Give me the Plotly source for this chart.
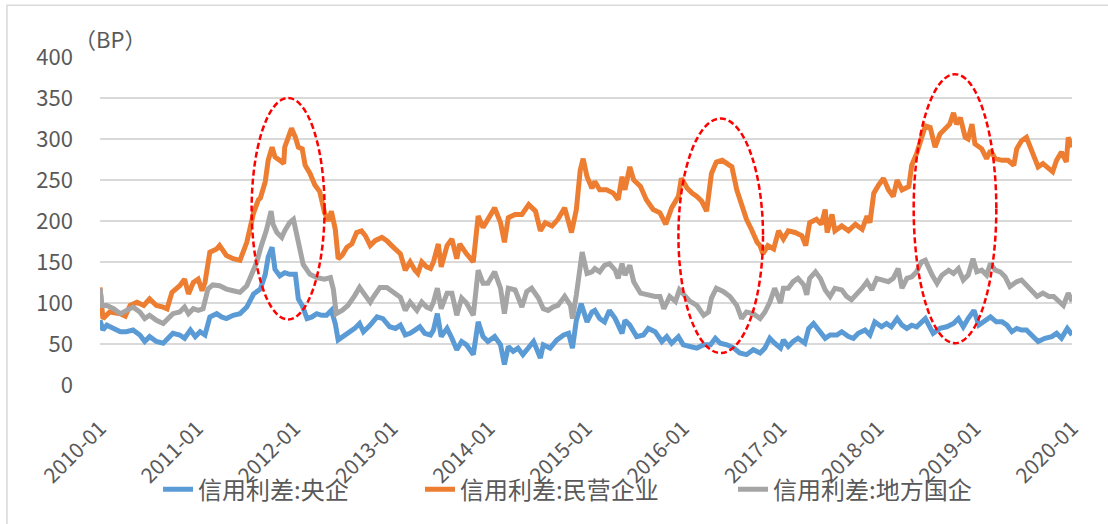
import pandas as pd
import plotly.graph_objects as go

# ---------------- data (decimal year, spread in BP) ----------------
series_names = ["信用利差:央企", "信用利差:民营企业", "信用利差:地方国企"]
series_colors = ["#5B9BD5", "#ED7D31", "#A5A5A5"]

t_soe = [2010.00, 2010.03, 2010.07, 2010.14, 2010.21, 2010.27, 2010.34, 2010.41, 2010.46, 2010.51,
         2010.58, 2010.65, 2010.70, 2010.75, 2010.82, 2010.87, 2010.93, 2010.98, 2011.03, 2011.08,
         2011.13, 2011.20, 2011.25, 2011.30, 2011.37, 2011.44, 2011.51, 2011.58, 2011.65, 2011.70,
         2011.73, 2011.77, 2011.80, 2011.85, 2011.90, 2011.95, 2012.01, 2012.04, 2012.08, 2012.13,
         2012.18, 2012.23, 2012.28, 2012.33, 2012.38, 2012.42, 2012.45, 2012.50, 2012.57, 2012.62,
         2012.67, 2012.71, 2012.78, 2012.85, 2012.91, 2012.98, 2013.04, 2013.09, 2013.14, 2013.19,
         2013.24, 2013.29, 2013.34, 2013.40, 2013.43, 2013.47, 2013.51, 2013.57, 2013.62, 2013.67,
         2013.72, 2013.77, 2013.84, 2013.89, 2013.94, 2013.99, 2014.06, 2014.12, 2014.16, 2014.20,
         2014.25, 2014.30, 2014.35, 2014.41, 2014.46, 2014.53, 2014.56, 2014.63, 2014.70, 2014.77,
         2014.82, 2014.86, 2014.90, 2014.95, 2015.01, 2015.06, 2015.09, 2015.14, 2015.19, 2015.24,
         2015.30, 2015.37, 2015.40, 2015.45, 2015.52, 2015.59, 2015.64, 2015.71, 2015.78, 2015.83,
         2015.88, 2015.95, 2016.00, 2016.07, 2016.14, 2016.21, 2016.28, 2016.33, 2016.38, 2016.45,
         2016.52, 2016.58, 2016.65, 2016.72, 2016.79, 2016.84, 2016.89, 2016.94, 2017.00, 2017.03,
         2017.08, 2017.13, 2017.18, 2017.25, 2017.29, 2017.34, 2017.39, 2017.46, 2017.51, 2017.58,
         2017.63, 2017.70, 2017.75, 2017.80, 2017.87, 2017.92, 2017.97, 2018.04, 2018.09, 2018.14,
         2018.20, 2018.25, 2018.30, 2018.35, 2018.40, 2018.45, 2018.49, 2018.57, 2018.64, 2018.71,
         2018.78, 2018.83, 2018.88, 2018.93, 2018.99, 2019.04, 2019.09, 2019.16, 2019.22, 2019.28,
         2019.33, 2019.38, 2019.43, 2019.48, 2019.53, 2019.60, 2019.65, 2019.72, 2019.79, 2019.84,
         2019.89, 2019.95, 2020.00]
v_soe = [79, 67, 73, 69, 65, 65, 67, 61, 53, 59,
         53, 51, 57, 63, 61, 57, 67, 59, 65, 61,
         83, 87, 83, 81, 85, 87, 95, 111, 117, 135,
         156, 168, 141, 133, 137, 135, 135, 105, 97, 81,
         83, 87, 85, 85, 91, 75, 55, 59, 65, 69,
         75, 65, 73, 83, 81, 71, 69, 73, 61, 63,
         67, 71, 63, 61, 67, 87, 59, 69, 57, 43,
         53, 49, 37, 77, 59, 53, 59, 49, 25, 47,
         41, 45, 37, 47, 53, 33, 49, 45, 55, 61,
         63, 45, 79, 99, 77, 89, 91, 81, 77, 91,
         81, 63, 79, 73, 59, 61, 69, 65, 53, 59,
         51, 59, 49, 47, 45, 49, 49, 57, 51, 49,
         45, 39, 37, 43, 39, 45, 57, 51, 45, 55,
         47, 53, 57, 51, 69, 75, 67, 57, 61, 61,
         65, 59, 57, 63, 67, 61, 77, 71, 75, 71,
         81, 73, 69, 73, 71, 77, 81, 63, 69, 71,
         75, 81, 71, 81, 91, 73, 77, 83, 77, 77,
         73, 65, 69, 67, 67, 59, 53, 57, 59, 63,
         57, 69, 61]

t_private = [2010.00, 2010.03, 2010.10, 2010.21, 2010.26, 2010.31, 2010.38, 2010.45, 2010.51, 2010.58,
             2010.65, 2010.69, 2010.74, 2010.82, 2010.87, 2010.91, 2010.96, 2011.01, 2011.05, 2011.08,
             2011.13, 2011.20, 2011.23, 2011.30, 2011.37, 2011.44, 2011.51, 2011.54, 2011.58, 2011.63,
             2011.65, 2011.70, 2011.73, 2011.77, 2011.80, 2011.85, 2011.89, 2011.90, 2011.94, 2011.97,
             2012.01, 2012.04, 2012.08, 2012.11, 2012.16, 2012.21, 2012.26, 2012.31, 2012.35, 2012.38,
             2012.42, 2012.45, 2012.49, 2012.54, 2012.59, 2012.64, 2012.69, 2012.73, 2012.78, 2012.83,
             2012.90, 2012.95, 2013.00, 2013.05, 2013.09, 2013.14, 2013.19, 2013.24, 2013.27, 2013.31,
             2013.36, 2013.40, 2013.43, 2013.48, 2013.51, 2013.57, 2013.62, 2013.67, 2013.70, 2013.77,
             2013.84, 2013.89, 2013.94, 2013.99, 2014.06, 2014.12, 2014.16, 2014.20, 2014.27, 2014.34,
             2014.41, 2014.48, 2014.53, 2014.58, 2014.65, 2014.71, 2014.78, 2014.85, 2014.90, 2014.94,
             2014.97, 2015.01, 2015.06, 2015.09, 2015.14, 2015.21, 2015.28, 2015.33, 2015.37, 2015.40,
             2015.45, 2015.49, 2015.56, 2015.62, 2015.69, 2015.76, 2015.82, 2015.88, 2015.95, 2015.98,
             2016.04, 2016.09, 2016.14, 2016.19, 2016.24, 2016.29, 2016.34, 2016.40, 2016.45, 2016.50,
             2016.55, 2016.60, 2016.65, 2016.70, 2016.76, 2016.79, 2016.82, 2016.87, 2016.93, 2016.98,
             2017.03, 2017.08, 2017.15, 2017.22, 2017.26, 2017.30, 2017.37, 2017.42, 2017.46, 2017.48,
             2017.53, 2017.56, 2017.63, 2017.70, 2017.77, 2017.84, 2017.89, 2017.92, 2017.96, 2018.01,
             2018.06, 2018.11, 2018.16, 2018.20, 2018.25, 2018.32, 2018.35, 2018.40, 2018.45, 2018.49,
             2018.54, 2018.59, 2018.64, 2018.69, 2018.74, 2018.78, 2018.81, 2018.85, 2018.90, 2018.93,
             2018.97, 2019.00, 2019.07, 2019.12, 2019.16, 2019.21, 2019.28, 2019.34, 2019.40, 2019.43,
             2019.48, 2019.53, 2019.57, 2019.62, 2019.65, 2019.70, 2019.76, 2019.80, 2019.84, 2019.89,
             2019.94, 2019.96, 2020.00]
v_private = [119, 81, 89, 87, 84, 97, 101, 97, 105, 97,
             95, 93, 113, 121, 129, 111, 125, 129, 115, 125,
             162, 166, 170, 158, 154, 152, 174, 190, 210, 226,
             228, 248, 274, 290, 278, 274, 270, 290, 302, 313,
             302, 290, 288, 268, 258, 244, 236, 210, 200, 212,
             190, 154, 158, 168, 172, 186, 188, 182, 170, 176,
             180, 176, 170, 164, 160, 140, 150, 140, 136, 150,
             144, 142, 150, 172, 144, 170, 178, 154, 172, 160,
             150, 206, 192, 202, 216, 198, 174, 204, 208, 208,
             220, 212, 188, 198, 194, 202, 216, 186, 214, 262,
             276, 254, 240, 248, 238, 238, 234, 226, 254, 238,
             266, 250, 242, 226, 214, 210, 196, 216, 230, 252,
             240, 234, 230, 224, 212, 258, 272, 274, 270, 266,
             238, 220, 202, 190, 174, 170, 160, 170, 166, 188,
             178, 188, 186, 182, 170, 198, 202, 196, 214, 186,
             208, 188, 194, 188, 196, 190, 206, 198, 234, 244,
             252, 238, 230, 250, 238, 242, 268, 282, 302, 316,
             314, 290, 306, 312, 318, 332, 318, 326, 302, 300,
             318, 294, 288, 276, 286, 276, 274, 274, 268, 288,
             298, 302, 290, 278, 266, 270, 264, 260, 274, 284,
             272, 302, 290]

t_local = [2010.00, 2010.02, 2010.07, 2010.14, 2010.21, 2010.27, 2010.34, 2010.41, 2010.46, 2010.51,
           2010.58, 2010.65, 2010.70, 2010.75, 2010.82, 2010.87, 2010.91, 2010.96, 2011.01, 2011.06,
           2011.11, 2011.16, 2011.23, 2011.30, 2011.37, 2011.44, 2011.51, 2011.56, 2011.61, 2011.66,
           2011.71, 2011.76, 2011.78, 2011.82, 2011.87, 2011.90, 2011.95, 2011.99, 2012.04, 2012.09,
           2012.16, 2012.23, 2012.31, 2012.37, 2012.40, 2012.43, 2012.49, 2012.55, 2012.62, 2012.67,
           2012.73, 2012.78, 2012.81, 2012.88, 2012.95, 2013.02, 2013.09, 2013.14, 2013.19, 2013.26,
           2013.31, 2013.36, 2013.40, 2013.43, 2013.47, 2013.51, 2013.57, 2013.62, 2013.67, 2013.72,
           2013.77, 2013.84, 2013.89, 2013.94, 2013.99, 2014.06, 2014.12, 2014.16, 2014.20, 2014.27,
           2014.34, 2014.39, 2014.44, 2014.51, 2014.56, 2014.61, 2014.66, 2014.71, 2014.78, 2014.84,
           2014.86, 2014.90, 2014.94, 2014.96, 2015.01, 2015.06, 2015.09, 2015.14, 2015.19, 2015.24,
           2015.30, 2015.33, 2015.37, 2015.40, 2015.45, 2015.49, 2015.56, 2015.62, 2015.71, 2015.76,
           2015.80, 2015.86, 2015.92, 2015.96, 2016.02, 2016.07, 2016.14, 2016.21, 2016.26, 2016.29,
           2016.34, 2016.41, 2016.48, 2016.55, 2016.60, 2016.65, 2016.72, 2016.79, 2016.84, 2016.89,
           2016.94, 2017.00, 2017.03, 2017.08, 2017.13, 2017.18, 2017.24, 2017.27, 2017.30, 2017.36,
           2017.41, 2017.46, 2017.51, 2017.56, 2017.63, 2017.68, 2017.73, 2017.78, 2017.84, 2017.89,
           2017.94, 2017.99, 2018.06, 2018.11, 2018.16, 2018.21, 2018.25, 2018.30, 2018.35, 2018.40,
           2018.45, 2018.49, 2018.56, 2018.61, 2018.66, 2018.73, 2018.78, 2018.83, 2018.88, 2018.93,
           2018.98, 2019.02, 2019.07, 2019.12, 2019.16, 2019.21, 2019.26, 2019.31, 2019.36, 2019.43,
           2019.48, 2019.53, 2019.58, 2019.64, 2019.70, 2019.76, 2019.81, 2019.86, 2019.91, 2019.96,
           2020.00]
v_local = [118, 97, 97, 93, 87, 91, 95, 89, 81, 85,
           79, 75, 81, 87, 89, 95, 87, 93, 91, 93,
           117, 122, 121, 117, 115, 113, 121, 135, 149, 170,
           188, 212, 196, 186, 180, 188, 198, 202, 174, 147,
           135, 131, 129, 131, 117, 87, 91, 97, 109, 119,
           109, 101, 107, 119, 119, 113, 107, 91, 101, 91,
           101, 95, 93, 101, 118, 93, 112, 112, 85, 106,
           100, 85, 140, 124, 124, 138, 118, 87, 118, 116,
           95, 114, 118, 106, 93, 91, 95, 97, 108, 97,
           81, 110, 150, 162, 136, 138, 142, 138, 146, 148,
           140, 130, 148, 134, 146, 126, 112, 110, 108, 108,
           93, 108, 102, 116, 108, 102, 97, 85, 89, 106,
           118, 114, 108, 97, 81, 89, 87, 81, 89, 101,
           118, 100, 118, 118, 126, 130, 122, 110, 130, 138,
           130, 116, 108, 118, 116, 108, 104, 110, 118, 126,
           116, 130, 128, 126, 130, 142, 118, 130, 132, 138,
           150, 152, 134, 124, 134, 140, 136, 142, 128, 134,
           154, 138, 140, 134, 148, 140, 138, 132, 120, 126,
           128, 122, 114, 108, 112, 108, 108, 102, 97, 112,
           102]

y_ticks = [0, 50, 100, 150, 200, 250, 300, 350, 400]
unit_label = "（BP）"

# highlighted periods (decimal year span, BP span) for the dashed ellipses
highlights = [(2011.56, 2012.31, 80, 350),
              (2015.95, 2016.82, 39, 325),
              (2018.37, 2019.22, 51, 379)]


def to_date(dec_years):
    base = pd.Timestamp("2010-01-01")
    return [base + pd.Timedelta(days=(d - 2010.0) * 365.25) for d in dec_years]


FONT = "Noto Sans CJK SC, Noto Sans, sans-serif"
TXT = "#595959"

fig = go.Figure()
all_t = [t_soe, t_private, t_local]
all_v = [v_soe, v_private, v_local]
legend_ids = ["legend", "legend2", "legend3"]
for name, color, t, v, lg in zip(series_names, series_colors, all_t, all_v, legend_ids):
    fig.add_trace(go.Scatter(
        x=to_date(t), y=v, mode="lines", name=name,
        line=dict(color=color, width=5, shape="linear"),
        legend=lg, showlegend=True,
    ))

for (x0, x1, y0, y1) in highlights:
    fig.add_shape(type="circle", xref="x", yref="y",
                  x0=to_date([x0])[0], x1=to_date([x1])[0], y0=y0, y1=y1,
                  line=dict(color="#FF0000", width=2.5, dash="6px,3px"),
                  fillcolor="rgba(0,0,0,0)", layer="above")

# outer chart border (left & top visible in reference)
fig.add_shape(type="rect", xref="paper", yref="paper",
              x0=-0.0957, x1=1.2, y0=-0.6, y1=1.158,
              line=dict(color="#D9D9D9", width=1.5), layer="below")

fig.add_annotation(text=unit_label, xref="paper", yref="paper",
                   x=0.0103, y=1.058, xanchor="center", yanchor="middle",
                   showarrow=False, font=dict(family=FONT, size=22, color=TXT))

leg_common = dict(orientation="h", xanchor="left", yanchor="middle", y=-0.319,
                  font=dict(family=FONT, size=24, color=TXT),
                  bgcolor="rgba(0,0,0,0)", borderwidth=0)
fig.update_layout(
    width=1108, height=524,
    margin=dict(l=100, r=36, t=57, b=137),
    paper_bgcolor="white", plot_bgcolor="white",
    font=dict(family=FONT, color=TXT, size=22),
    legend=dict(x=0.0597, **leg_common),
    legend2=dict(x=0.3292, **leg_common),
    legend3=dict(x=0.6512, **leg_common),
    xaxis=dict(type="date", range=["2010-01-01", "2020-01-01"],
               tick0="2010-01-01", dtick="M12", tickformat="%Y-%m",
               tickangle=-45, showgrid=False, showline=False, zeroline=False,
               ticks="", ticklabelstandoff=26,
               tickfont=dict(family=FONT, size=21, color=TXT)),
    yaxis=dict(range=[0, 400], tickvals=y_ticks, showgrid=True,
               gridcolor="#D9D9D9", gridwidth=1.5, zeroline=False, showline=False,
               ticks="", ticklabelstandoff=26,
               tickfont=dict(family=FONT, size=22, color=TXT)),
)

fig.write_html("out.html", config={"displayModeBar": False},
               post_script="document.body.style.margin='0px';")
